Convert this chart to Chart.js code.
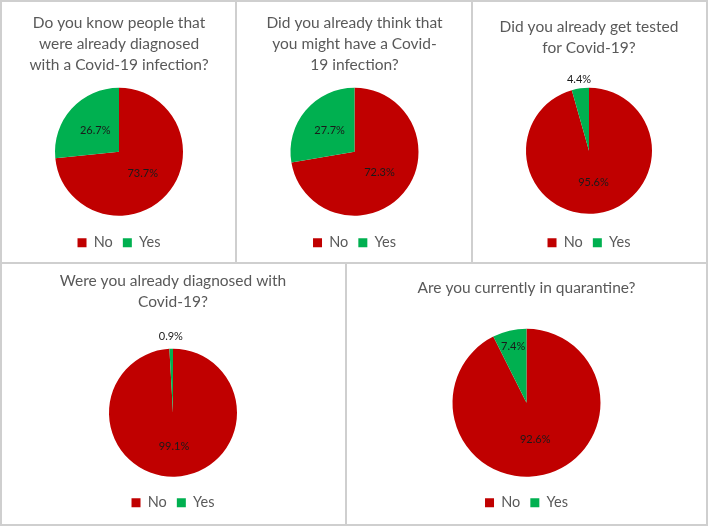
<!DOCTYPE html>
<html>
<head>
<meta charset="utf-8">
<script src="https://cdn.jsdelivr.net/npm/chart.js@4"></script>
<style>
  body { margin: 0; background: #fff; }
  #wrap { position: relative; width: 709px; height: 526px; }
  #wrap canvas { position: absolute; }
  .line { position: absolute; background: #cfcfcf; }
</style>
</head>
<body>
<div id="wrap">
  <div class="line" style="left:0;top:0;width:708px;height:2px"></div>
  <div class="line" style="left:0;top:524px;width:708px;height:2px"></div>
  <div class="line" style="left:0;top:0;width:2px;height:526px"></div>
  <div class="line" style="left:706px;top:0;width:2px;height:526px"></div>
  <div class="line" style="left:0;top:262px;width:708px;height:2px"></div>
  <div class="line" style="left:235px;top:0;width:2px;height:263px"></div>
  <div class="line" style="left:471px;top:0;width:2px;height:263px"></div>
  <div class="line" style="left:345px;top:263px;width:2px;height:263px"></div>

  <canvas id="pie1" width="233" height="260" style="left:2px;top:2px"></canvas>
  <canvas id="pie2" width="234" height="260" style="left:237px;top:2px"></canvas>
  <canvas id="pie3" width="233" height="260" style="left:473px;top:2px"></canvas>
  <canvas id="pie4" width="343" height="260" style="left:2px;top:264px"></canvas>
  <canvas id="pie5" width="359" height="260" style="left:347px;top:264px"></canvas>
</div>
<script>
var colorNo = '#c00000';
var colorYes = '#00b050';
var textGrey = '#595959';

// answers and shares (%)
const answers = ['No', 'Yes'];
const knowDiagnosed = [73.7, 26.7];
const thoughtInfected = [72.3, 27.7];
const gotTested = [95.6, 4.4];
const wasDiagnosed = [99.1, 0.9];
const inQuarantine = [92.6, 7.4];

const titles = [
    ['Do you know people that', 'were already diagnosed', 'with a Covid-19 infection?'],
    ['Did you already think that', 'you might have a Covid-', '19 infection?'],
    ['Did you already get tested', 'for Covid-19?'],
    ['Were you already diagnosed with', 'Covid-19?'],
    ['Are you currently in quarantine?']
];

// percent labels, drawn along the middle of each slice
const sliceLabels = {
    id: 'sliceLabels',
    afterDatasetsDraw: function(chart, args, opts) {
        var ctx = chart.ctx;
        var values = chart.data.datasets[0].data;
        ctx.save();
        ctx.font = '11px Lato';
        ctx.fillStyle = '#1a1a1a';
        ctx.textAlign = 'center';
        ctx.textBaseline = 'middle';
        chart.getDatasetMeta(0).data.forEach(function(arc, i) {
            var p = arc.getProps(['x', 'y', 'startAngle', 'endAngle', 'outerRadius'], true);
            var mid = (p.startAngle + p.endAngle) / 2;
            var r = p.outerRadius * opts.pos[i];
            ctx.fillText(values[i].toFixed(1) + '%', p.x + Math.cos(mid) * r, p.y + Math.sin(mid) * r);
        });
        ctx.restore();
    }
};

function makePie(id, title, values, opt) {
    new Chart(document.getElementById(id), {
        type: 'pie',
        data: {
            labels: answers,
            datasets: [{
                data: values,
                backgroundColor: [colorNo, colorYes],
                borderWidth: 0,
                radius: opt.radius
            }]
        },
        options: {
            responsive: false,
            animation: false,
            layout: { padding: opt.layout },
            plugins: {
                title: {
                    display: true,
                    text: title,
                    color: textGrey,
                    font: { family: 'Lato', size: 15.5, weight: 'normal', lineHeight: 21 / 15.5 },
                    padding: { top: opt.titleTop, bottom: opt.titleBottom }
                },
                legend: {
                    position: 'bottom',
                    labels: {
                        color: textGrey,
                        boxWidth: 9,
                        boxHeight: 9,
                        padding: 10,
                        font: { family: 'Lato', size: 14.5 }
                    }
                },
                tooltip: { enabled: false },
                sliceLabels: { pos: opt.pos }
            }
        },
        plugins: [sliceLabels]
    });
}

makePie('pie1', titles[0], knowDiagnosed, {
    radius: 64, layout: { left: 1, right: 0, top: 0, bottom: 2 }, titleTop: 10, titleBottom: 3, pos: [0.5, 0.5]
});
makePie('pie2', titles[1], thoughtInfected, {
    radius: 64, layout: { left: 1, right: 0, top: 0, bottom: 2 }, titleTop: 10, titleBottom: 3, pos: [0.51, 0.51]
});
makePie('pie3', titles[2], gotTested, {
    radius: 63, layout: { left: 0, right: 1, top: 0, bottom: 2 }, titleTop: 14, titleBottom: 18, pos: [0.51, 1.15]
});
makePie('pie4', titles[3], wasDiagnosed, {
    radius: 64, layout: { left: 0, right: 1, top: 0, bottom: 4 }, titleTop: 6, titleBottom: 28, pos: [0.53, 1.19]
});
makePie('pie5', titles[4], inQuarantine, {
    radius: 74, layout: { left: 0, right: 0, top: 0, bottom: 4 }, titleTop: 13, titleBottom: 22, pos: [0.51, 0.78]
});
</script>
</body>
</html>
